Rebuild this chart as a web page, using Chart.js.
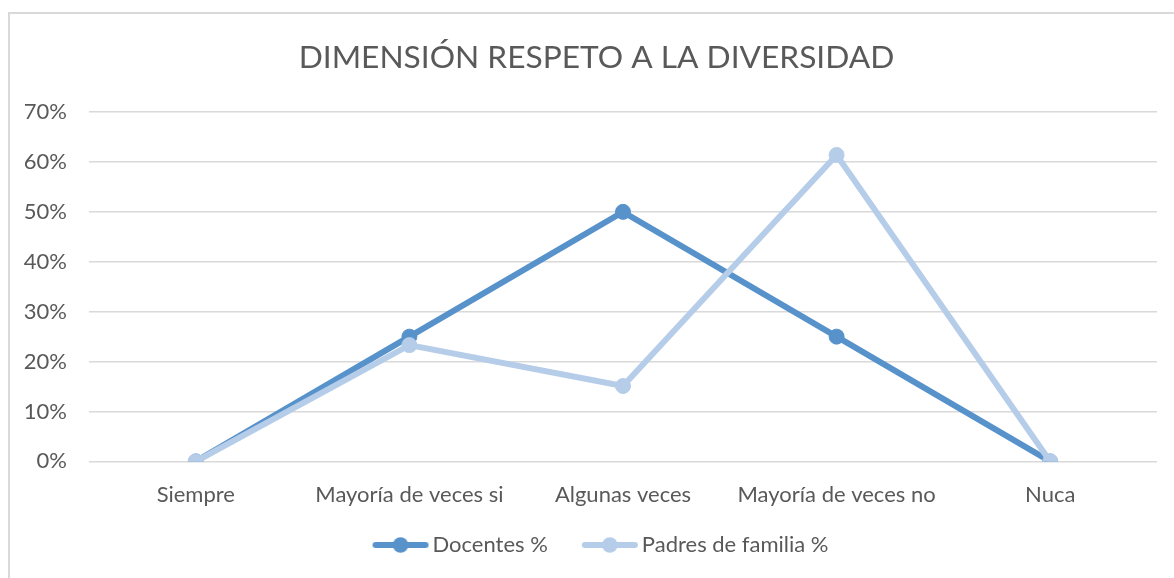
<!DOCTYPE html>
<html>
<head>
<meta charset="utf-8">
<script src="https://cdn.jsdelivr.net/npm/chart.js@4.4.0/dist/chart.umd.min.js"></script>
<style>
  html, body { margin: 0; padding: 0; background: #fff; overflow: hidden; }
  #wrap { position: absolute; left: 0; top: 0; width: 1174px; height: 578px; }
  #frame { position: absolute; left: 8px; top: 12px; width: 1200px; height: 600px;
           border-left: 2px solid #d9d9d9; border-top: 2px solid #d9d9d9; box-sizing: border-box; }
  canvas { position: absolute; left: 0; top: 0; }
</style>
</head>
<body>
<div id="wrap">
  <div id="frame"></div>
  <canvas id="c" width="1174" height="578"></canvas>
</div>
<script>
const titleText = "DIMENSIÓN RESPETO A LA DIVERSIDAD";
const categories = ["Siempre", "Mayoría de veces si", "Algunas veces", "Mayoría de veces no", "Nuca"];
const docentes = [0, 25, 50, 25, 0];
const padres = [0, 23.3, 15.1, 61.4, 0];
const seriesNames = ["Docentes %", "Padres de familia %"];
const yTicks = [0, 10, 20, 30, 40, 50, 60, 70];

const FONT = "Lato, 'Open Sans', sans-serif";
const TEXT = "#595959";
const C1 = "#5892CA";
const C2 = "#B6CDE9";

// legend symbol: line with a dot; blank margin on the left gives the gap between items
function legendIcon(color) {
  const cv = document.createElement("canvas");
  cv.width = 89; cv.height = 18;
  const g = cv.getContext("2d");
  g.strokeStyle = color; g.lineWidth = 6; g.lineCap = "round";
  g.beginPath(); g.moveTo(35, 9); g.lineTo(85, 9); g.stroke();
  g.fillStyle = color;
  g.beginPath(); g.arc(60, 9, 7.8, 0, Math.PI * 2); g.fill();
  return cv;
}

const shiftPlugin = {
  id: "shiftBlocks",
  afterLayout(chart) {
    if (chart.titleBlock) { chart.titleBlock.left += 18; chart.titleBlock.right += 18; }
    if (chart.legend) { chart.legend.left += 10; chart.legend.right += 10; }
  }
};

new Chart(document.getElementById("c"), {
  type: "line",
  data: {
    labels: categories,
    datasets: [
      { label: seriesNames[0], data: docentes, borderColor: C1, backgroundColor: C1,
        pointBackgroundColor: C1, pointBorderColor: C1, borderWidth: 6, pointRadius: 7.5,
        pointBorderWidth: 1, pointStyle: "circle", order: 1, tension: 0 },
      { label: seriesNames[1], data: padres, borderColor: C2, backgroundColor: C2,
        pointBackgroundColor: C2, pointBorderColor: C2, borderWidth: 6, pointRadius: 7.5,
        pointBorderWidth: 1, pointStyle: "circle", order: 0, tension: 0 }
    ]
  },
  plugins: [shiftPlugin],
  options: {
    responsive: false,
    animation: false,
    devicePixelRatio: 1,
    layout: { padding: { left: 0, right: 17, top: 0, bottom: 12 } },
    plugins: {
      title: { display: true, text: titleText, color: TEXT,
               font: { family: FONT, size: 31.7, weight: "normal" },
               padding: { top: 39, bottom: 35 } },
      legend: { position: "bottom",
        labels: { color: TEXT, font: { family: FONT, size: 22 }, usePointStyle: true,
                  pointStyleWidth: 73, padding: 10,
                  sort: (a, b) => a.datasetIndex - b.datasetIndex,
                  generateLabels: (chart) => chart.data.datasets.map((ds, i) => ({
                    text: ds.label, fontColor: TEXT, pointStyle: legendIcon(ds.borderColor),
                    datasetIndex: i, hidden: false, lineWidth: 0, strokeStyle: ds.borderColor,
                    fillStyle: ds.borderColor })) } },
      tooltip: { enabled: false }
    },
    scales: {
      x: { offset: true,
           afterFit: (s) => { s.height = 62.6; },
           grid: { display: false, drawTicks: false },
           border: { display: false },
           ticks: { color: TEXT, font: { family: FONT, size: 22 }, padding: 20, maxRotation: 0, autoSkip: false } },
      y: { min: 0, max: 70,
           afterBuildTicks: (s) => { s.ticks = yTicks.map(v => ({ value: v })); },
           afterFit: (s) => { s.width = 89; },
           grid: { color: "#d9d9d9", lineWidth: 1.5, drawTicks: false },
           border: { display: false },
           ticks: { color: TEXT, font: { family: FONT, size: 22 }, padding: 22,
                    callback: (v) => v + "%" } }
    }
  }
});
</script>
</body>
</html>
